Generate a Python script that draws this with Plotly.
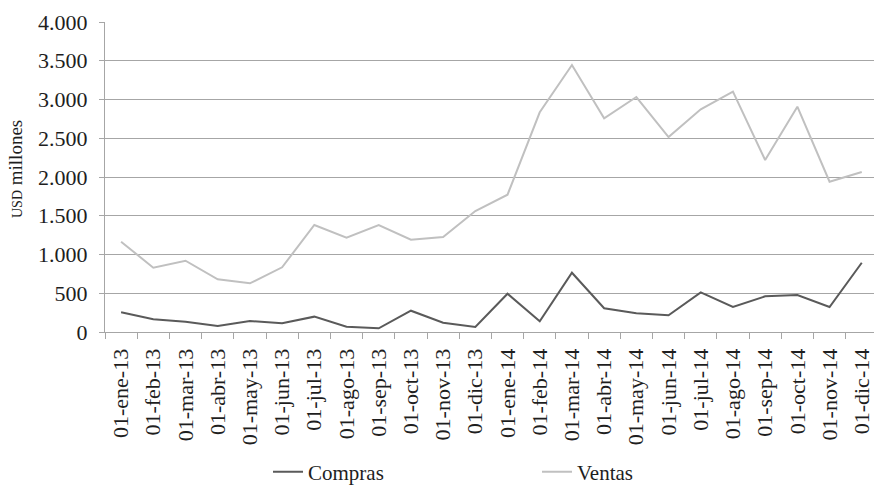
import plotly.graph_objects as go

categories = ["01-ene-13", "01-feb-13", "01-mar-13", "01-abr-13", "01-may-13", "01-jun-13",
              "01-jul-13", "01-ago-13", "01-sep-13", "01-oct-13", "01-nov-13", "01-dic-13",
              "01-ene-14", "01-feb-14", "01-mar-14", "01-abr-14", "01-may-14", "01-jun-14",
              "01-jul-14", "01-ago-14", "01-sep-14", "01-oct-14", "01-nov-14", "01-dic-14"]
compras = [254, 164, 133, 77, 142, 112, 198, 69, 47, 275, 120, 65,
           494, 138, 765, 306, 241, 215, 512, 323, 460, 477, 323, 894]
ventas = [1165, 830, 920, 680, 628, 835, 1381, 1217, 1381, 1191, 1226, 1561,
          1772, 2835, 3445, 2757, 3032, 2516, 2873, 3101, 2219, 2907, 1939, 2065]
y_ticks = [0, 500, 1000, 1500, 2000, 2500, 3000, 3500, 4000]
y_tick_labels = ["0", "500", "1.000", "1.500", "2.000", "2.500", "3.000", "3.500", "4.000"]
y_title = "<span style='font-size:14px'>USD</span> millones"

FONT = "Liberation Serif"
GRID = "#a6a6a6"
TXT = "#1e1e1e"

fig = go.Figure()
fig.add_trace(go.Scatter(x=categories, y=compras, mode="lines", name="Compras",
                         line=dict(color="#5a5a5a", width=2), legend="legend"))
fig.add_trace(go.Scatter(x=categories, y=ventas, mode="lines", name="Ventas",
                         line=dict(color="#c0c0c0", width=2), legend="legend2"))

leg_common = dict(orientation="h", yanchor="middle", xanchor="left", y=-0.452,
                  font=dict(family=FONT, size=21, color=TXT), itemwidth=30,
                  bgcolor="rgba(0,0,0,0)", borderwidth=0)

fig.update_layout(
    width=874, height=486,
    margin=dict(l=105, r=0, t=22, b=154, autoexpand=False),
    paper_bgcolor="white", plot_bgcolor="white",
    font=dict(family=FONT, color=TXT, size=21),
    showlegend=True,
    legend=dict(x=(268 - 105) / 769, **leg_common),
    legend2=dict(x=(537 - 105) / 769, **leg_common),
    xaxis=dict(type="category", range=[-0.5, 23.38], tickangle=-90, automargin=False,
               ticks="outside", tickson="boundaries", ticklen=6, tickcolor=GRID,
               showline=True, linecolor=GRID, linewidth=1,
               showgrid=False, ticklabelstandoff=7,
               tickfont=dict(family=FONT, size=22, color=TXT)),
    yaxis=dict(range=[0, 4000], tickvals=y_ticks, ticktext=y_tick_labels, automargin=False,
               ticks="outside", ticklen=5, tickcolor=GRID,
               showline=True, linecolor=GRID, linewidth=1,
               showgrid=True, gridcolor=GRID, gridwidth=1, zeroline=False,
               ticklabelstandoff=7,
               tickfont=dict(family=FONT, size=22, color=TXT)),
    annotations=[dict(text=y_title, textangle=-90, showarrow=False,
                      xref="paper", yref="paper", x=(15 - 105) / 769, y=(332 - 169) / 310,
                      xanchor="center", yanchor="middle",
                      font=dict(family=FONT, size=19, color=TXT))],
)

fig.write_html("out.html", config={"displayModeBar": False},
               post_script="document.body.style.margin='0';document.body.style.overflow='hidden';")
